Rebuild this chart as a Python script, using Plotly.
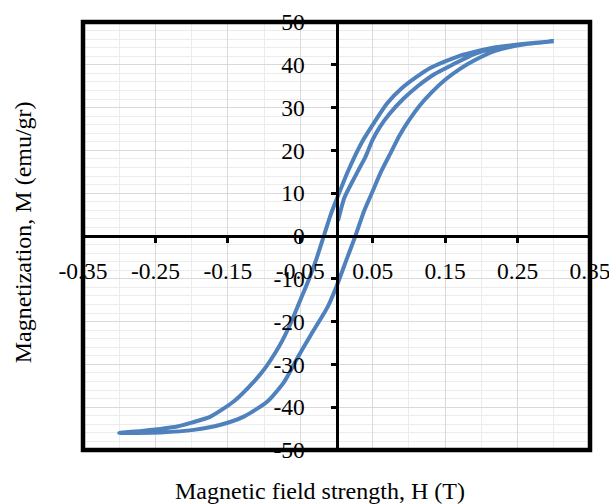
import plotly.graph_objects as go

# Initial magnetization curve (H in T, M in emu/gr)
init_H = [0.002, 0.011, 0.025, 0.036, 0.040, 0.050, 0.060, 0.073, 0.092, 0.112, 0.135, 0.160, 0.190, 0.220, 0.260, 0.300]
init_M = [3.5, 9.0, 13.7, 17.2, 18.5, 22.5, 25.5, 28.5, 32.0, 35.0, 37.8, 40.0, 42.5, 44.0, 44.9, 45.5]

# Descending branch (from +saturation to -saturation)
desc_H = [0.300, 0.260, 0.220, 0.190, 0.170, 0.150, 0.130, 0.110, 0.090, 0.070, 0.052, 0.036, 0.016, 0.000,
          -0.008, -0.0175, -0.028, -0.039, -0.050, -0.061, -0.075, -0.086, -0.100, -0.114, -0.1416, -0.174,
          -0.200, -0.220, -0.266, -0.300]
desc_M = [45.5, 44.9, 44.1, 43.0, 42.1, 40.8, 39.3, 37.1, 34.5, 31.0, 26.5, 22.2, 15.2, 8.5,
          5.0, 0.0, -5.5, -10.5, -15.0, -19.5, -24.5, -27.7, -31.2, -34.0, -38.6, -42.2,
          -43.6, -44.5, -45.5, -46.0]

# Ascending branch (from -saturation to +saturation)
asc_H = [-0.300, -0.243, -0.197, -0.160, -0.128, -0.095, -0.072, -0.054, -0.035, -0.012, 0.000, 0.015,
         0.025, 0.038, 0.050, 0.062, 0.075, 0.087, 0.100, 0.115, 0.131, 0.150, 0.170, 0.190, 0.220, 0.260, 0.300]
asc_M = [-46.0, -45.9, -45.3, -44.1, -42.2, -38.6, -34.0, -28.5, -23.0, -16.5, -11.8, -5.0,
         -0.5, 5.8, 10.5, 15.2, 19.5, 23.5, 27.0, 30.5, 33.5, 36.5, 39.0, 41.0, 43.3, 44.8, 45.5]

x_tick_vals = [-0.35, -0.25, -0.15, -0.05, 0.05, 0.15, 0.25, 0.35]
x_tick_text = ["-0.35", "-0.25", "-0.15", "-0.05", "0.05", "0.15", "0.25", "0.35"]
y_tick_vals = [50, 40, 30, 20, 10, 0, -10, -20, -30, -40, -50]
y_tick_text = ["50", "40", "30", "20", "10", "0", "-10", "-20", "-30", "-40", "-50"]

x_title = "Magnetic field strength, H (T)"
y_title = "Magnetization, M (emu/gr)"

H_all = init_H + desc_H[1:] + asc_H[1:]
M_all = init_M + desc_M[1:] + asc_M[1:]

FONT = "Liberation Serif"
TICK_SIZE = 23.5
TITLE_SIZE = 24

fig = go.Figure()
fig.add_trace(go.Scatter(
    x=H_all, y=M_all, mode="lines",
    line=dict(color="#4F81BD", width=4, shape="spline", smoothing=0.6),
    showlegend=False, hoverinfo="skip",
))

fig.update_layout(
    width=609, height=504,
    margin=dict(l=83, r=19, t=22, b=54, autoexpand=False),
    paper_bgcolor="white", plot_bgcolor="white",
    font=dict(family=FONT, size=TICK_SIZE, color="black"),
    xaxis=dict(
        range=[-0.35, 0.35], anchor="free", position=0.5, automargin=False,
        tickmode="array", tickvals=x_tick_vals, ticktext=x_tick_text,
        showline=True, linecolor="black", linewidth=3,
        ticks="outside", ticklen=5, tickwidth=3, tickcolor="black",
        ticklabelstandoff=8, ticklabeloverflow="allow",
        showgrid=True, gridcolor="#d9d9d9", gridwidth=1,
        minor=dict(tickmode="linear", tick0=-0.35, dtick=0.05, showgrid=True, gridcolor="#ececec", gridwidth=1),
        zeroline=False,
        tickfont=dict(family=FONT, size=TICK_SIZE, color="black"),
    ),
    yaxis=dict(
        range=[-50, 50], anchor="free", position=0.5, automargin=False,
        tickmode="array", tickvals=y_tick_vals, ticktext=y_tick_text,
        showline=True, linecolor="black", linewidth=3,
        ticks="outside", ticklen=5, tickwidth=3, tickcolor="black",
        ticklabelstandoff=21, ticklabeloverflow="allow",
        showgrid=True, gridcolor="#d9d9d9", gridwidth=1,
        minor=dict(tickmode="linear", tick0=-50, dtick=2, showgrid=True, gridcolor="#ececec", gridwidth=1),
        zeroline=False,
        tickfont=dict(family=FONT, size=TICK_SIZE, color="black"),
    ),
    shapes=[dict(type="rect", xref="paper", yref="paper", x0=0, y0=0, x1=1, y1=1,
                 line=dict(color="black", width=4.5), fillcolor="rgba(0,0,0,0)", layer="above")],
    annotations=[
        dict(text=x_title, xref="paper", yref="paper", x=0.4675, y=-0.096,
             xanchor="center", yanchor="middle", showarrow=False,
             font=dict(family=FONT, size=TITLE_SIZE, color="black")),
        dict(text=y_title, xref="paper", yref="paper", x=-0.118, y=0.509,
             xanchor="center", yanchor="middle", showarrow=False, textangle=-90,
             font=dict(family=FONT, size=TITLE_SIZE, color="black")),
    ],
)

fig.write_html("out.html")
